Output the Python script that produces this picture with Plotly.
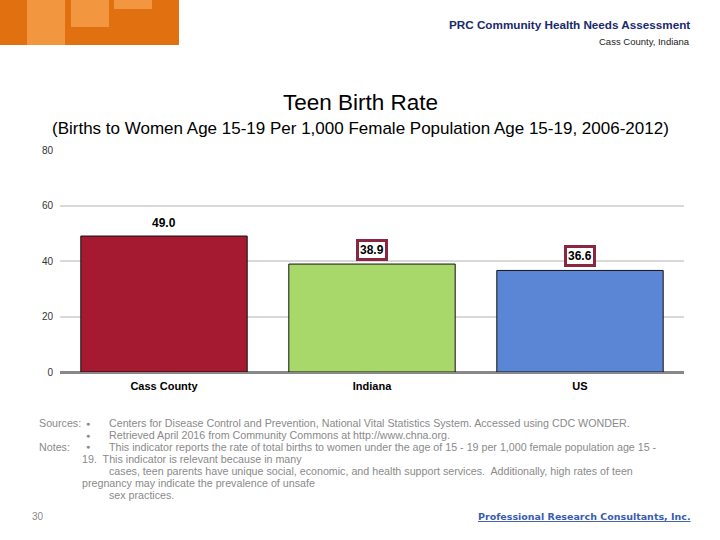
import plotly.graph_objects as go

categories = ["Cass County", "Indiana", "US"]
values = [49.0, 38.9, 36.6]
bar_colors = ["#A51A31", "#A8D86A", "#5B86D6"]
boxed = [False, True, True]
y_ticks = [0, 20, 40, 60, 80]

W, H = 720, 540
def px(x): return x / W
def py(y): return 1 - y / H

fig = go.Figure()
fig.add_trace(go.Bar(
    x=categories, y=values,
    marker=dict(color=bar_colors, line=dict(color="#111111", width=1)),
    width=0.8, hoverinfo="skip",
))

narrow = "Liberation Sans Narrow, Arial Narrow, Liberation Sans, sans-serif"

for c, v, b in zip(categories, values, boxed):
    fig.add_annotation(
        x=c, y=v, xref="x", yref="y", text=f"<b>{v:.1f}</b>",
        showarrow=False, yanchor="bottom", yshift=3 if b else 5,
        font=dict(family=narrow, size=12, color="#000"),
        bgcolor="white" if b else "rgba(0,0,0,0)",
        bordercolor="#8B2640" if b else "rgba(0,0,0,0)",
        borderwidth=3 if b else 0, borderpad=1,
    )

fig.update_layout(
    width=W, height=H,
    margin=dict(l=0, r=0, t=0, b=0, pad=0, autoexpand=False),
    paper_bgcolor="white", plot_bgcolor="white",
    showlegend=False,
    xaxis=dict(
        domain=[px(60), px(684)], showgrid=False, zeroline=False,
        showline=False, ticks="", automargin=False,
        tickvals=categories, ticktext=[f"<b>{c}</b>" for c in categories],
        tickfont=dict(family=narrow, size=11, color="#000"),
        ticklabelstandoff=6,
    ),
    yaxis=dict(
        domain=[py(372), py(150)], range=[0, 80], tickvals=y_ticks,
        showgrid=True, gridcolor="#D9D9D9", gridwidth=2,
        zeroline=True, zerolinecolor="#888888", zerolinewidth=3,
        showline=False, ticks="", automargin=False,
        tickfont=dict(family="Liberation Sans, Arial, sans-serif", size=10, color="#333"),
        ticklabelstandoff=6,
    ),
    bargap=0.2,
)

# Logo
fig.add_shape(type="rect", xref="paper", yref="paper", x0=0, x1=px(179), y0=py(45), y1=1,
              fillcolor="#E07010", line=dict(width=0), layer="above")
for x0, x1, y1 in [(27, 65, 45), (71, 109, 27), (114, 152, 9)]:
    fig.add_shape(type="rect", xref="paper", yref="paper", x0=px(x0), x1=px(x1), y0=py(y1), y1=1,
                  fillcolor="#F29640", line=dict(width=0), layer="above")

def txt(x, y, s, size, color, xanchor="left", family="Liberation Sans, Arial, sans-serif"):
    fig.add_annotation(x=px(x), y=py(y), xref="paper", yref="paper", text=s, showarrow=False,
                       xanchor=xanchor, yanchor="middle",
                       font=dict(family=family, size=size, color=color))

txt(692, 25, "<b>PRC Community Health Needs Assessment</b>", 11.7, "#1B2A6B", "right", narrow)
txt(692, 41, "Cass County, Indiana", 9.5, "#222", "right", narrow)

txt(360, 102, "Teen Birth Rate", 22.5, "#000", "center", narrow)
txt(360, 128, "(Births to Women Age 15-19 Per 1,000 Female Population Age 15-19, 2006-2012)", 17, "#000", "center", narrow)

gray = "#8A8A8A"
fs = 10.7
txt(37, 423, "Sources:", fs, gray)
txt(84, 423, "●", 7, gray)
txt(107, 423, "Centers for Disease Control and Prevention, National Vital Statistics System. Accessed using CDC WONDER.", fs, gray)
txt(84, 435, "●", 7, gray)
txt(107, 435, "Retrieved April 2016 from Community Commons at http://www.chna.org.", fs, gray)
txt(37, 447, "Notes:", fs, gray)
txt(84, 447, "●", 7, gray)
txt(107, 447, "This indicator reports the rate of total births to women under the age of 15 - 19 per 1,000 female population age 15 -", fs, gray)
txt(80, 459, "19.  This indicator is relevant because in many", fs, gray)
txt(107, 471, "cases, teen parents have unique social, economic, and health support services.  Additionally, high rates of teen", fs, gray)
txt(80, 483, "pregnancy may indicate the prevalence of unsafe", fs, gray)
txt(107, 495, "sex practices.", fs, gray)

txt(30, 516, "30", 10, gray)
txt(693, 516, "<b><u>Professional Research Consultants, Inc.</u></b>", 9.5, "#3A5BB0", "right",
    "DejaVu Sans, Liberation Sans, sans-serif")

fig.write_html(
    "out.html",
    config={"displayModeBar": False},
    post_script=(
        "document.documentElement.style.margin='0';"
        "document.body.style.margin='0';document.body.style.padding='0';"
        "document.body.style.overflow='hidden';"
        "var d=document.getElementById('{plot_id}');"
        "d.style.position='fixed';d.style.left='0px';d.style.top='0px';"
    ),
)
